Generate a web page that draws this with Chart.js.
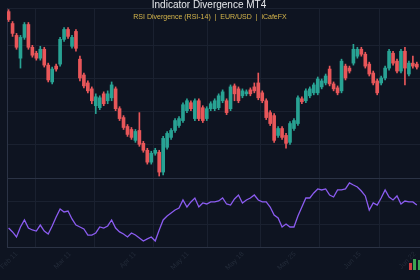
<!DOCTYPE html>
<html>
<head>
<meta charset="utf-8">
<script src="https://cdn.jsdelivr.net/npm/chart.js@4.4.0/dist/chart.umd.min.js"></script>
<style>
  html, body { margin: 0; padding: 0; background: #0e1421; }
</style>
</head>
<body>
<canvas id="grafico" width="420" height="280"></canvas>
<script>
// Dados (EUR/USD, candles + RSI-14)

var titulo = 'Indicator Divergence MT4';
var subtitulo = 'RSI Divergence (RSI-14)  |  EUR/USD  |  iCafeFX';

var open = [
  1.1004, 1.0968, 1.0932, 1.0863, 1.0926, 1.0965, 1.0896, 1.0878, 1.0863, 1.0890,
  1.0842, 1.0791, 1.0839, 1.0845, 1.0920, 1.0950, 1.0899, 1.0944, 1.0860, 1.0812,
  1.0788, 1.0770, 1.0719, 1.0713, 1.0755, 1.0734, 1.0743, 1.0770, 1.0710, 1.0683,
  1.0656, 1.0647, 1.0614, 1.0644, 1.0605, 1.0584, 1.0548, 1.0575, 1.0578, 1.0518,
  1.0593, 1.0623, 1.0644, 1.0659, 1.0674, 1.0704, 1.0728, 1.0680, 1.0734, 1.0713,
  1.0680, 1.0710, 1.0710, 1.0713, 1.0734, 1.0734, 1.0710, 1.0779, 1.0770, 1.0749,
  1.0755, 1.0767, 1.0776, 1.0788, 1.0758, 1.0734, 1.0698, 1.0689, 1.0629, 1.0650,
  1.0629, 1.0608, 1.0650, 1.0665, 1.0740, 1.0734, 1.0749, 1.0758, 1.0758, 1.0776,
  1.0788, 1.0830, 1.0785, 1.0773, 1.0764, 1.0839, 1.0833, 1.0848, 1.0869, 1.0890,
  1.0875, 1.0845, 1.0818, 1.0794, 1.0788, 1.0803, 1.0833, 1.0878, 1.0854, 1.0824,
  1.0884, 1.0815, 1.0848, 1.0845
];

var close = [
  1.0980, 1.0938, 1.0896, 1.0926, 1.0965, 1.0896, 1.0872, 1.0863, 1.0890, 1.0842,
  1.0797, 1.0830, 1.0830, 1.0920, 1.0950, 1.0929, 1.0926, 1.0893, 1.0803, 1.0779,
  1.0764, 1.0734, 1.0746, 1.0743, 1.0725, 1.0755, 1.0782, 1.0710, 1.0680, 1.0653,
  1.0632, 1.0623, 1.0641, 1.0602, 1.0584, 1.0548, 1.0575, 1.0584, 1.0518, 1.0620,
  1.0635, 1.0644, 1.0674, 1.0680, 1.0722, 1.0734, 1.0710, 1.0734, 1.0680, 1.0674,
  1.0710, 1.0725, 1.0734, 1.0749, 1.0761, 1.0698, 1.0776, 1.0755, 1.0734, 1.0764,
  1.0761, 1.0755, 1.0764, 1.0743, 1.0734, 1.0683, 1.0665, 1.0614, 1.0650, 1.0623,
  1.0605, 1.0665, 1.0674, 1.0743, 1.0731, 1.0764, 1.0770, 1.0782, 1.0800, 1.0794,
  1.0809, 1.0785, 1.0770, 1.0758, 1.0854, 1.0803, 1.0824, 1.0890, 1.0890, 1.0875,
  1.0839, 1.0815, 1.0788, 1.0758, 1.0803, 1.0833, 1.0884, 1.0848, 1.0824, 1.0884,
  1.0833, 1.0848, 1.0839, 1.0836
];

var high = [
  1.1010, 1.0974, 1.0938, 1.0932, 1.0971, 1.0971, 1.0902, 1.0884, 1.0899, 1.0896,
  1.0848, 1.0836, 1.0845, 1.0926, 1.0956, 1.0956, 1.0932, 1.0950, 1.0869, 1.0818,
  1.0794, 1.0776, 1.0755, 1.0749, 1.0761, 1.0764, 1.0791, 1.0776, 1.0716, 1.0689,
  1.0662, 1.0653, 1.0647, 1.0698, 1.0611, 1.0590, 1.0581, 1.0590, 1.0584, 1.0626,
  1.0641, 1.0650, 1.0680, 1.0686, 1.0728, 1.0740, 1.0734, 1.0740, 1.0740, 1.0719,
  1.0716, 1.0731, 1.0740, 1.0755, 1.0767, 1.0740, 1.0782, 1.0785, 1.0776, 1.0770,
  1.0767, 1.0773, 1.0788, 1.0818, 1.0764, 1.0740, 1.0704, 1.0695, 1.0656, 1.0656,
  1.0635, 1.0671, 1.0680, 1.0749, 1.0746, 1.0770, 1.0776, 1.0788, 1.0806, 1.0800,
  1.0815, 1.0839, 1.0791, 1.0779, 1.0860, 1.0845, 1.0839, 1.0905, 1.0896, 1.0896,
  1.0881, 1.0851, 1.0824, 1.0800, 1.0809, 1.0839, 1.0890, 1.0884, 1.0860, 1.0890,
  1.0896, 1.0854, 1.0869, 1.0851
];

var low = [
  1.0974, 1.0929, 1.0890, 1.0833, 1.0920, 1.0890, 1.0866, 1.0857, 1.0857, 1.0836,
  1.0791, 1.0785, 1.0824, 1.0839, 1.0914, 1.0923, 1.0893, 1.0884, 1.0794, 1.0773,
  1.0758, 1.0725, 1.0695, 1.0707, 1.0719, 1.0725, 1.0734, 1.0704, 1.0674, 1.0647,
  1.0626, 1.0617, 1.0608, 1.0596, 1.0578, 1.0542, 1.0542, 1.0569, 1.0506, 1.0509,
  1.0587, 1.0617, 1.0638, 1.0653, 1.0668, 1.0698, 1.0704, 1.0674, 1.0674, 1.0668,
  1.0674, 1.0704, 1.0704, 1.0707, 1.0728, 1.0692, 1.0704, 1.0734, 1.0728, 1.0743,
  1.0749, 1.0749, 1.0758, 1.0737, 1.0728, 1.0677, 1.0659, 1.0608, 1.0623, 1.0617,
  1.0590, 1.0602, 1.0644, 1.0659, 1.0725, 1.0728, 1.0743, 1.0752, 1.0752, 1.0770,
  1.0782, 1.0779, 1.0764, 1.0752, 1.0758, 1.0797, 1.0818, 1.0842, 1.0863, 1.0869,
  1.0833, 1.0809, 1.0782, 1.0752, 1.0782, 1.0797, 1.0827, 1.0842, 1.0818, 1.0818,
  1.0782, 1.0809, 1.0833, 1.0830
];

var rsi = [
  36.5, 33.1, 28.7, 37.4, 43.5, 36.5, 34.8, 33.9, 39.1, 33.9,
  31.3, 38.3, 46.1, 53.1, 50.5, 51.3, 44.4, 39.1, 37.4, 35.7,
  30.4, 30.4, 32.2, 37.4, 36.5, 38.3, 43.5, 36.5, 33.1, 31.3,
  28.7, 32.2, 30.4, 27.8, 25.2, 27.0, 28.7, 25.2, 34.8, 43.5,
  47.0, 49.6, 52.2, 53.9, 60.9, 54.8, 59.2, 62.6, 54.8, 58.3,
  57.4, 59.2, 59.2, 60.0, 62.6, 57.4, 56.5, 61.8, 65.2, 58.3,
  60.9, 62.6, 65.2, 60.9, 59.2, 59.2, 54.8, 47.8, 45.2, 37.4,
  40.0, 37.4, 37.4, 47.0, 54.8, 62.6, 62.6, 67.0, 70.5, 69.6,
  70.5, 65.2, 63.5, 69.6, 69.6, 70.5, 75.7, 73.9, 72.2, 68.7,
  64.4, 52.2, 58.3, 56.5, 62.6, 69.6, 63.5, 60.9, 64.4, 57.4,
  60.0, 59.2, 59.2, 56.5
];

// ticks do eixo x (posição em candles)
var tickIndex = [0, 13.5, 29.9, 43.2, 57.1, 70.2, 86.6, 100.5];
var tickLabels = ['Feb 11', 'Mar 11', 'Apr 11', 'May 11', 'May 18', 'May 25', 'Jun 15', 'Jun 22'];

// Gráfico

var corAlta = '#29a394';
var corBaixa = '#e8575a';
var corGrade = '#1a2130';
var corBorda = '#2b3345';

var cores = open.map(function (o, i) { return close[i] >= o ? corAlta : corBaixa; });
var corpos = open.map(function (o, i) { return { x: i, y: [o, close[i]] }; });
var pavios = open.map(function (o, i) { return { x: i, y: [low[i], high[i]] }; });
var pontosRsi = rsi.map(function (v, i) { return { x: i, y: v }; });

// títulos + logo no canto
var titulos = {
  id: 'titulos',
  afterDraw: function (chart) {
    var c = chart.ctx;
    c.save();
    c.textAlign = 'center';
    c.fillStyle = '#e6e8ec';
    c.font = '10px "Liberation Sans", Arial, sans-serif';
    c.fillText(titulo, 209, 8);
    c.fillStyle = '#d6b64c';
    c.font = '7px "Liberation Sans", Arial, sans-serif';
    c.fillText(subtitulo, 210, 18.5);

    c.fillStyle = '#d23c3f';
    c.fillRect(409, 263, 3, 7);
    c.fillStyle = '#3da553';
    c.fillRect(413, 259, 3, 11);
    c.fillRect(418, 260, 2, 10);
    c.restore();
  }
};

var ctx = document.getElementById('grafico').getContext('2d');

var meuGrafico = new Chart(ctx, {
  type: 'bar',
  data: {
    datasets: [
      {
        type: 'line',
        label: 'RSI',
        data: pontosRsi,
        yAxisID: 'rsi',
        borderColor: '#8b5cf0',
        borderWidth: 1.3,
        pointRadius: 0,
        tension: 0
      },
      {
        label: 'pavio',
        data: pavios,
        yAxisID: 'y',
        backgroundColor: cores,
        barThickness: 1,
        grouped: false
      },
      {
        label: 'corpo',
        data: corpos,
        yAxisID: 'y',
        backgroundColor: cores,
        barThickness: 3,
        grouped: false
      }
    ]
  },
  options: {
    responsive: false,
    devicePixelRatio: 1,
    animation: false,
    layout: { padding: { left: 7, top: 8, right: 0, bottom: 0 } },
    plugins: {
      legend: { display: false },
      tooltip: { enabled: false }
    },
    scales: {
      x: {
        type: 'linear',
        min: -0.4,
        max: 103.8,
        offset: false,
        grid: { color: corGrade, drawTicks: false },
        border: { color: corBorda },
        ticks: {
          color: '#232b39',
          maxRotation: 45,
          minRotation: 45,
          padding: 3,
          labelOffset: 8,
          font: { size: 7, family: '"Liberation Sans", Arial, sans-serif' },
          callback: function (v, i) { return tickLabels[i]; }
        },
        afterBuildTicks: function (s) {
          s.ticks = tickIndex.map(function (v) { return { value: v }; });
        },
        afterFit: function (s) {
          s.height = 33;
          s.paddingLeft = 0;
          s.paddingRight = 0;
        }
      },
      y: {
        type: 'linear',
        position: 'left',
        stack: 'painel',
        stackWeight: 170,
        weight: 2,
        min: 1.05,
        max: 1.1015,
        ticks: { display: false, stepSize: 0.01 },
        grid: { color: corGrade, drawTicks: false },
        border: { color: corBorda },
        afterFit: function (s) { s.width = 0; }
      },
      rsi: {
        type: 'linear',
        position: 'left',
        stack: 'painel',
        stackWeight: 69,
        weight: 1,
        min: 20,
        max: 80,
        ticks: { display: false, stepSize: 20 },
        grid: {
          color: function (c) { return c.tick && c.tick.value === 80 ? corBorda : corGrade; },
          drawTicks: false
        },
        border: { color: corBorda },
        afterFit: function (s) { s.width = 0; }
      }
    }
  },
  plugins: [titulos]
});
</script>
</body>
</html>
